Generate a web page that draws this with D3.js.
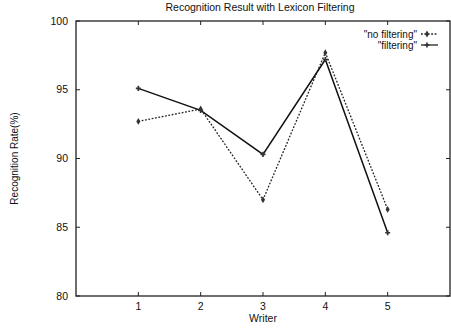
<!DOCTYPE html>
<html>
<head>
<meta charset="utf-8">
<script src="https://cdn.jsdelivr.net/npm/d3@7.9.0/dist/d3.min.js"></script>
<style>
  body { margin: 0; background: #fff; }
  svg text { font-family: "Liberation Sans", Arial, sans-serif; fill: #111; }
</style>
</head>
<body>
<svg id="chart" width="451" height="328"></svg>
<script>
// writers on the x axis
const writers = [1, 2, 3, 4, 5];
// recognition rate (%) per writer
const noFiltering = [92.7, 93.6, 87.0, 97.7, 86.3];
const filtering = [95.1, 93.5, 90.3, 97.2, 84.6];
const yTicks = [80, 85, 90, 95, 100];

const svg = d3.select("#chart");
const margin = { top: 21, right: 1, bottom: 32, left: 76 };
const width = 451, height = 328;

const x = d3.scaleLinear().domain([0, 6]).range([margin.left, width - margin.right]);
const y = d3.scaleLinear().domain([80, 100]).range([height - margin.bottom, margin.top]);

// frame
svg.append("rect")
    .attr("x", margin.left).attr("y", margin.top)
    .attr("width", x(6) - x(0)).attr("height", y(80) - y(100))
    .attr("fill", "none").attr("stroke", "#222").attr("stroke-width", 1.3);

// inward ticks on all four sides
const tickLen = 4;
let ticks = svg.append("g").attr("stroke", "#222").attr("stroke-width", 1);
writers.forEach(w => {
    ticks.append("line").attr("x1", x(w)).attr("x2", x(w)).attr("y1", y(80)).attr("y2", y(80) - tickLen);
    ticks.append("line").attr("x1", x(w)).attr("x2", x(w)).attr("y1", y(100)).attr("y2", y(100) + tickLen);
});
yTicks.forEach(t => {
    ticks.append("line").attr("x1", x(0)).attr("x2", x(0) + tickLen).attr("y1", y(t)).attr("y2", y(t));
    ticks.append("line").attr("x1", x(6)).attr("x2", x(6) - tickLen).attr("y1", y(t)).attr("y2", y(t));
});

// tick labels
svg.append("g").selectAll("text").data(yTicks).join("text")
    .attr("x", x(0) - 8).attr("y", d => y(d) + 3.5)
    .attr("text-anchor", "end").attr("font-size", 10.5)
    .text(d => d);
svg.append("g").selectAll("text").data(writers).join("text")
    .attr("x", d => x(d)).attr("y", y(80) + 14)
    .attr("text-anchor", "middle").attr("font-size", 10.5)
    .text(d => d);

// titles
svg.append("text").attr("x", 260).attr("y", 11)
    .attr("text-anchor", "middle").attr("font-size", 10.5)
    .text("Recognition Result with Lexicon Filtering");
svg.append("text").attr("x", x(3)).attr("y", 322)
    .attr("text-anchor", "middle").attr("font-size", 10.5)
    .text("Writer");
svg.append("text").attr("transform", `translate(18,${(y(80) + y(100)) / 2}) rotate(-90)`)
    .attr("text-anchor", "middle").attr("font-size", 10)
    .text("Recognition Rate(%)");

const line = d3.line().x((d, i) => x(writers[i])).y(d => y(d));

// series
svg.append("path").datum(noFiltering).attr("d", line)
    .attr("fill", "none").attr("stroke", "#222").attr("stroke-width", 1.3)
    .attr("stroke-dasharray", "1.8,1.6");
svg.append("path").datum(filtering).attr("d", line)
    .attr("fill", "none").attr("stroke", "#111").attr("stroke-width", 1.5);

const diamond = d3.symbol().type(d3.symbolDiamond).size(14);
const plus = d3.symbol().type(d3.symbolCross).size(14);

svg.append("g").selectAll("path").data(noFiltering).join("path")
    .attr("transform", (d, i) => `translate(${x(writers[i])},${y(d)})`)
    .attr("d", diamond).attr("fill", "#333");
svg.append("g").selectAll("path").data(filtering).join("path")
    .attr("transform", (d, i) => `translate(${x(writers[i])},${y(d)})`)
    .attr("d", plus).attr("fill", "#333");

// legend
const legend = svg.append("g");
const legendItems = [
    { label: "\"no filtering\"", dash: "1.8,1.6", sym: diamond, y: 34 },
    { label: "\"filtering\"", dash: null, sym: plus, y: 45 }
];
legendItems.forEach(it => {
    legend.append("text").attr("x", 417).attr("y", it.y + 3.5)
        .attr("text-anchor", "end").attr("font-size", 10).text(it.label);
    legend.append("line").attr("x1", 421).attr("x2", 438).attr("y1", it.y).attr("y2", it.y)
        .attr("stroke", "#222").attr("stroke-width", 1.3)
        .attr("stroke-dasharray", it.dash);
    legend.append("path").attr("transform", `translate(427,${it.y})`)
        .attr("d", it.sym).attr("fill", "#333");
});
</script>
</body>
</html>
